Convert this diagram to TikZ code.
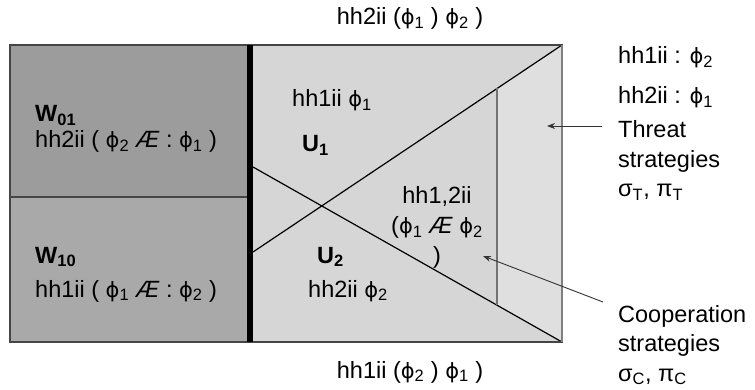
\documentclass[tikz,border=0pt]{standalone}
\usepackage{fontspec}
\setmainfont{Liberation Sans}
\newfontfamily\symfont{DejaVu Sans}
\usetikzlibrary{arrows.meta}
\definecolor{wtop}{HTML}{9C9C9C}
\definecolor{wbot}{HTML}{A9A9A9}
\definecolor{ureg}{HTML}{D6D6D6}
\definecolor{strip}{HTML}{DFDFDF}
\definecolor{edge}{HTML}{454545}
\newcommand{\ph}[1]{{\symfont\fontsize{21}{29.5}\selectfont ϕ}\textsubscript{#1}}

\begin{document}
\begin{tikzpicture}[x=1pt, y=-1pt,
  every node/.style={font=\fontsize{23.5}{29.5}\selectfont, inner sep=0pt},
  lbl/.style={anchor=base west},
  pointer/.style={draw=black!80, line width=0.9pt, -{Stealth[length=8pt,width=6pt]}}]
  \useasboundingbox (0,0) rectangle (755,390);

  % Regions
  \fill[wtop] (10,45) rectangle (250,197);
  \fill[wbot] (10,197) rectangle (250,342);
  \fill[ureg] (250,45) rectangle (562,342);
  \fill[strip] (497,88.5) -- (562,45) -- (562,342) -- (497,305) -- cycle;

  % Crossing lines
  \draw[line width=1.2pt] (253,167) -- (562,342);
  \draw[line width=1.2pt] (253,252) -- (562,45);
  \draw[line width=2pt, black!55] (497,88.5) -- (497,305);

  % Frame
  \draw[line width=2pt, edge] (10,45) rectangle (562,342);
  \draw[line width=2pt, black!50] (562,45) -- (562,342);
  \draw[line width=1.5pt, edge] (10,197) -- (250,197);
  \draw[line width=6pt] (250,45) -- (250,342);

  % Axis labels
  \node[anchor=base] (top) at (410,25) {hh2ii (\ph{1} ) \ph{2} )};
  \node[anchor=base] (bottom) at (410,378) {hh1ii (\ph{2} ) \ph{1} )};

  % W regions
  \node[lbl] (w01) at (35,122) {\textbf{W\textsubscript{01}}};
  \node[lbl] (w01txt) at (35,148) {hh2ii ( \ph{2} \textit{Æ} : \ph{1} )};
  \node[lbl] (w10) at (35,263) {\textbf{W\textsubscript{10}}};
  \node[lbl] (w10txt) at (35,297) {hh1ii ( \ph{1} \textit{Æ} : \ph{2} )};

  % U regions
  \node[lbl] (u1txt) at (292,107) {hh1ii \ph{1}};
  \node[lbl] (u1) at (302,152) {\textbf{U\textsubscript{1}}};
  \node[lbl] (u2) at (317,263) {\textbf{U\textsubscript{2}}};
  \node[lbl] (u2txt) at (308,297) {hh2ii \ph{2}};
  \node[anchor=base, align=center] (coop) at (437,263)
    {hh1,2ii\\(\ph{1} \textit{Æ} \ph{2}\\)};

  % Right side texts
  \node[lbl] (t1) at (618,64) {hh1ii : \ph{2}};
  \node[lbl] (t2) at (618,104) {hh2ii : \ph{1}};
  \node[anchor=base west, align=left] (threat) at (618,197)
    {Threat\\strategies\\σ\textsubscript{T}, π\textsubscript{T}};
  \node[anchor=base west, align=left] (cooper) at (618,381)
    {Cooperation\\strategies\\σ\textsubscript{C}, π\textsubscript{C}};

  % Pointers
  \coordinate (thrfrom) at (602,126);
  \coordinate (thrto) at (547,126);
  \coordinate (cpfrom) at (603,302);
  \coordinate (cpto) at (483,256);
  \draw[pointer] (thrfrom) -- (thrto);
  \draw[pointer] (cpfrom) -- (cpto);
\end{tikzpicture}
\end{document}
